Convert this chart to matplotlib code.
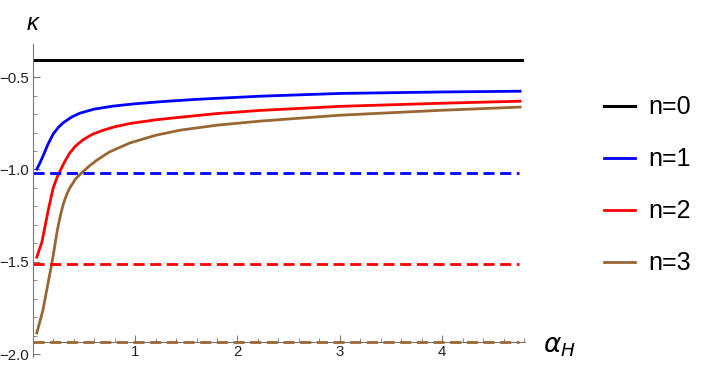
import matplotlib.pyplot as plt
from matplotlib.ticker import MultipleLocator

plt.rcParams['font.family'] = ['Liberation Sans', 'DejaVu Sans']

# curves
alpha_n1 = [0.04, 0.07, 0.10, 0.15, 0.20, 0.25, 0.30, 0.38, 0.46, 0.60, 0.78, 1.0, 1.27, 1.6, 2.22, 3.0, 4.0, 4.76]
kappa_n1 = [-0.998, -0.965, -0.928, -0.862, -0.808, -0.772, -0.746, -0.716, -0.695, -0.673, -0.657,
            -0.644, -0.632, -0.620, -0.603, -0.588, -0.580, -0.576]

alpha_n2 = [0.04, 0.09, 0.15, 0.20, 0.24, 0.27, 0.31, 0.36, 0.42, 0.49, 0.58, 0.69, 0.80, 0.95,
            1.2, 1.44, 1.8, 2.22, 3.0, 4.0, 4.76]
kappa_n2 = [-1.475, -1.393, -1.225, -1.100, -1.040, -1.005, -0.960, -0.912, -0.872, -0.840, -0.810,
            -0.787, -0.769, -0.751, -0.731, -0.717, -0.697, -0.680, -0.658, -0.641, -0.630]

alpha_n3 = [0.04, 0.10, 0.15, 0.19, 0.24, 0.27, 0.30, 0.33, 0.36, 0.42, 0.49, 0.56, 0.63, 0.75, 0.95,
            1.2, 1.44, 1.8, 2.22, 3.0, 4.0, 4.76]
kappa_n3 = [-1.886, -1.762, -1.615, -1.500, -1.330, -1.250, -1.185, -1.138, -1.102, -1.050, -1.012,
            -0.978, -0.948, -0.905, -0.856, -0.815, -0.787, -0.760, -0.738, -0.706, -0.679, -0.662]

# horizontal levels
alpha_span = [0, 4.75]
kappa_n0 = -0.408
limit_n1 = -1.02
limit_n2 = -1.51
limit_n3 = -1.935

labels = ["n=0", "n=1", "n=2", "n=3"]
brown = (0.6, 0.4, 0.2)

fig = plt.figure(figsize=(7.05, 3.65), dpi=100)
ax = fig.add_axes([0.0464, 0.022, 0.6986, 0.857])
ax.set_xlim(0, 4.81)
ax.set_ylim(-2.016, -0.321)

dash = (0, (4.0, 2.0))
lw = 2.0
l0, = ax.plot([alpha_span[0], 4.78], [kappa_n0, kappa_n0], color='black', lw=2.2)
l1, = ax.plot(alpha_n1, kappa_n1, color='blue', lw=lw)
l2, = ax.plot(alpha_n2, kappa_n2, color='red', lw=lw)
l3, = ax.plot(alpha_n3, kappa_n3, color=brown, lw=lw)
ax.plot(alpha_span, [limit_n1, limit_n1], color='blue', lw=lw, ls=dash)
ax.plot(alpha_span, [limit_n2, limit_n2], color='red', lw=lw, ls=dash)
ax.plot(alpha_span, [limit_n3, limit_n3], color=brown, lw=lw, ls=dash, clip_on=False, zorder=5)

for s in ['top', 'right']:
    ax.spines[s].set_visible(False)
ax.spines['bottom'].set_position(('data', limit_n3))
for s in ['left', 'bottom']:
    ax.spines[s].set_color('#777777')
    ax.spines[s].set_linewidth(0.8)

ax.set_xticks([1, 2, 3, 4])
ax.xaxis.set_minor_locator(MultipleLocator(0.2))
ax.set_yticks([-2.0, -1.5, -1.0, -0.5])
ax.set_yticklabels(["\u22122.0", "\u22121.5", "\u22121.0", "\u22120.5"])
ax.yaxis.set_minor_locator(MultipleLocator(0.1))
ax.tick_params(which='both', direction='in', color='#777777', labelsize=10.8, labelcolor='#222222')
ax.tick_params(which='major', length=5, width=0.8, pad=2.5)
ax.tick_params(which='minor', length=3, width=0.6)

fig.text(33 / 705, 1 - 23 / 365, "\u03ba", ha='center', va='center', style='italic', fontsize=17)
fig.text(543 / 705, 1 - 347 / 365, r"$\alpha_H$", ha='left', va='center', fontsize=19)

fig.legend([l0, l1, l2, l3], labels, loc='center left', bbox_to_anchor=(0.825, 0.492),
           frameon=False, fontsize=18, handlelength=1.25, handletextpad=0.5, labelspacing=1.12)

fig.savefig("out.png", dpi=100)
